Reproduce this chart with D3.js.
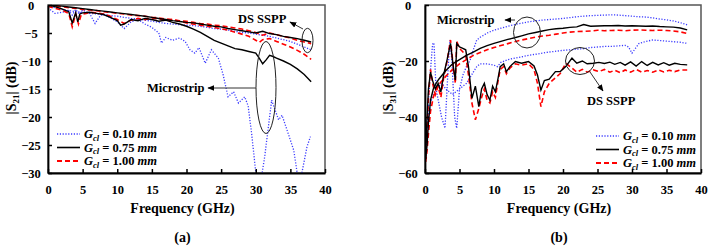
<!DOCTYPE html>
<html>
<head>
	<meta charset='utf-8'>
	<title>S21 / S31</title>
	<script src='https://cdn.jsdelivr.net/npm/d3@7'></script>
	<style>
		body { margin: 0; background: #fff; }
		svg text { font-family: 'Liberation Serif', 'Times New Roman', Times, 'DejaVu Serif', serif !important; font-weight: bold; }
	</style>
</head>
<body>
	<svg width='709' height='247'></svg>
	<script>

		// ---- data: panel (a) |S21| ----
		const gclLabels = ['0.10', '0.75', '1.00']
		const xTicks = [0, 5, 10, 15, 20, 25, 30, 35, 40]
		const aYTicks = [0, -5, -10, -15, -20, -25, -30]
		const bYTicks = [0, -20, -40, -60]

		const aDsF = [0, 1, 2, 3, 4, 5, 6, 7, 8, 9, 10, 11, 12, 13, 14, 15, 16, 17, 18, 19, 20, 21, 22, 23, 24, 25, 26, 27, 28, 29, 30, 31, 32, 33, 34, 35, 36, 37, 38]
		const aDs075 = [0, -0.1, -0.2, -0.35, -0.5, -0.65, -0.8, -0.95, -1.1, -1.25, -1.4, -1.55, -1.7, -1.85, -2.0, -2.2, -2.4, -2.6, -2.8, -2.95, -3.1, -3.2, -3.4, -3.6, -3.8, -3.9, -4.2, -4.4, -4.6, -4.8, -5.0, -4.7, -5.1, -5.3, -5.6, -5.8, -6.0, -6.3, -6.6]
		const aDs010 = [-0.2, -0.5, -0.8, -1.0, -1.2, -1.3, -1.5, -1.6, -1.7, -1.9, -2.0, -2.2, -2.4, -2.5, -2.7, -2.9, -3.1, -3.3, -3.4, -3.5, -3.6, -3.7, -3.8, -4.0, -4.2, -4.3, -4.5, -4.7, -4.9, -5.0, -5.2, -5.4, -5.6, -5.9, -6.2, -6.5, -7.0, -7.5, -8.0]
		const aDs100 = [0, -0.2, -0.3, -0.5, -0.6, -0.8, -0.9, -1.0, -1.2, -1.3, -1.5, -1.6, -1.8, -1.9, -2.0, -2.2, -2.3, -2.5, -2.6, -2.8, -2.9, -3.1, -3.3, -3.4, -3.6, -3.7, -3.9, -4.1, -4.3, -4.6, -4.9, -5.4, -5.0, -5.3, -5.6, -5.9, -6.3, -6.6, -6.9]

		const aMs075F = [0, 1, 2, 3, 3.5, 4, 4.3, 4.6, 5, 6, 7, 8, 9, 10, 10.5, 11, 11.5, 12, 13, 14, 15, 16, 17, 18, 19, 20, 21, 22, 23, 24, 25, 26, 27, 28, 29, 30, 30.5, 31, 31.5, 32, 32.5, 33, 34, 35, 36, 37, 38]
		const aMs075 = [0, -0.3, -0.7, -1.2, -3.2, -1.4, -3.0, -1.6, -1.4, -1.3, -1.5, -1.7, -2.2, -2.8, -3.6, -3.4, -3.0, -2.6, -2.8, -2.4, -2.6, -2.9, -2.7, -3.1, -3.4, -3.8, -4.3, -4.9, -5.6, -6.3, -6.8, -7.3, -7.8, -8.0, -8.3, -8.6, -9.5, -10.5, -9.8, -9.0, -9.2, -9.5, -10.0, -10.6, -11.4, -12.4, -13.7]

		const aMs100F = [0, 1, 2, 3, 3.5, 4, 4.4, 4.8, 5.5, 6, 7, 8, 9, 10, 11, 12, 13, 14, 15, 16, 17, 18, 19, 20, 22, 24, 26, 28, 29, 30, 30.5, 31, 32, 33, 34, 35, 36, 37, 38]
		const aMs100 = [-0.2, -0.6, -0.9, -1.5, -3.9, -1.6, -3.4, -1.7, -1.5, -1.3, -1.4, -1.6, -2.0, -2.6, -3.3, -2.7, -2.4, -2.6, -2.3, -2.5, -2.8, -2.6, -2.9, -3.2, -3.6, -4.0, -4.5, -5.2, -5.6, -6.3, -6.7, -6.2, -6.0, -6.5, -7.0, -7.5, -8.1, -8.8, -9.7]

		const aMs010F = [0, 1, 2, 3, 3.5, 4, 4.5, 5, 6, 6.8, 7.5, 8, 9, 10, 11, 12, 13, 14, 15, 16, 16.4, 17, 18, 19, 19.8, 20.5, 21.2, 21.8, 22.7, 23.6, 24.6, 25.3, 26, 26.8, 27.5, 28.4, 28.9, 29.4, 30.1, 30.8, 31.3, 32.3, 33.3, 33.8, 34.7, 35.5, 36.1, 36.5, 37.4, 37.9]
		const aMs010 = [-0.5, -1.5, -1.3, -1.0, -1.8, -0.8, -1.6, -0.9, -1.5, -3.3, -2.0, -1.6, -2.3, -3.0, -4.2, -3.0, -2.6, -3.4, -4.0, -5.0, -6.8, -5.8, -6.3, -5.9, -6.5, -8.0, -8.6, -7.6, -10.4, -8.0, -9.5, -12.5, -16.4, -15.5, -17.5, -16.4, -18, -22.9, -31, -31, -27, -17, -20.5, -19.7, -23, -26, -31, -31, -25.3, -23.5]

		// ---- data: panel (b) |S31| ----
		const bMsF = [0.1, 0.3, 0.5, 0.8, 1.2, 1.6, 2, 2.5, 3, 4, 5, 6, 7, 8, 9, 10, 11, 12, 13, 14, 15, 16, 17, 18, 19, 20, 21, 22, 23, 24, 25, 26, 27, 28, 29, 30, 31, 32, 33, 34, 35, 36, 37, 38]
		const bMs075 = [-55, -50, -42, -34, -30, -28, -26.5, -25, -23.5, -21, -19.5, -18, -16.8, -15.5, -14.5, -13.7, -13, -12.3, -11.7, -11, -10.3, -9.8, -9.3, -8.8, -8.5, -8.3, -8.0, -7.8, -7.0, -7.6, -7.5, -7.4, -7.4, -7.3, -7.5, -7.4, -7.5, -7.6, -7.5, -7.7, -7.8, -7.9, -8.2, -8.9]
		const bMs100 = [-56, -52, -46, -38, -33, -30, -28.5, -27, -25.5, -23, -21, -19.5, -18, -17, -16, -15.2, -14.5, -13.8, -13.1, -12.5, -12, -11.5, -11.1, -10.8, -10.4, -10, -9.7, -9.5, -9.4, -9.3, -9.0, -9.2, -9.1, -9.0, -9.2, -9.0, -8.9, -9.0, -9.1, -9.0, -9.1, -9.3, -9.6, -10.2]

		const bMs010F = [0.1, 0.3, 0.6, 0.9, 1.1, 1.3, 1.6, 2, 2.4, 2.9, 3.3, 3.6, 3.9, 4.3, 4.6, 5, 5.5, 6, 6.5, 7, 7.5, 8, 8.5, 9, 10, 11, 12, 13, 14, 15, 16, 17, 18, 19, 20, 21, 22, 23, 24, 25, 26, 27, 28, 29, 30, 31, 32, 33, 34, 35, 36, 37, 38]
		const bMs010 = [-54, -45, -30, -20, -14, -13.5, -30, -35, -40, -44, -25, -12.5, -20, -40, -44, -30, -25, -22, -20, -16, -12.5, -11.5, -10.8, -10, -9, -8.3, -7.6, -7.0, -6.5, -6.0, -5.7, -5.4, -5.2, -5.0, -4.8, -4.5, -4.2, -4.0, -3.8, -3.7, -3.6, -3.5, -3.6, -3.8, -4.0, -4.2, -4.3, -4.6, -5.0, -5.3, -5.7, -6.3, -7.1]

		const bDs010F = [0.1, 0.4, 0.8, 1.2, 1.6, 2, 2.5, 3, 4, 5, 6, 6.5, 7, 7.5, 8, 9, 10, 10.5, 11, 12, 13, 14, 15, 16, 17, 18, 19, 20, 21, 22, 23, 24, 25, 26, 27, 28, 29, 29.5, 30, 30.5, 31, 32, 33, 34, 35, 36, 37, 38]
		const bDs010 = [-54, -42, -35, -32, -30, -29, -28, -30, -32, -30, -28, -26, -24, -22, -21, -21, -21.5, -22, -20.5, -19.5, -19, -18.5, -18, -17.6, -17.2, -16.8, -16.5, -16.2, -16, -15.8, -15.6, -15.2, -15, -14.8, -14.8, -14.6, -14.4, -15, -17.2, -15.5, -13.8, -13, -12.5, -12.7, -12.9, -13.1, -13.3, -13.7]

		const bDsF = [0.1, 0.3, 0.5, 0.8, 1.1, 1.5, 1.9, 2.3, 2.7, 3.2, 3.7, 4.1, 4.4, 4.6, 5.0, 5.4, 5.9, 6.3, 6.8, 7.3, 7.8, 8.2, 8.6, 9.0, 9.4, 9.8, 10.2, 10.6, 10.9, 11.4, 11.8, 12.3, 13.1, 14, 15, 15.8, 16.3, 16.8, 17.3, 18, 18.9, 19.6, 20.4, 21.3, 22, 22.8, 23.5, 24.4, 25.2, 26, 26.8, 27.5, 28.3, 29, 29.8, 30.6, 31.4, 32.2, 33, 33.8, 34.6, 35.4, 36.2, 37, 38]
		const bDs075 = [-52, -40, -30, -24, -27, -30, -28, -31, -25, -19.6, -13.7, -22, -26.8, -13.7, -15, -15.4, -16, -22, -33.3, -29, -36.3, -30, -28, -32, -34, -29, -31, -26, -22, -21, -23.8, -22, -20.2, -20.8, -20.2, -21.8, -25, -30.4, -27, -26.5, -23.8, -23.8, -22, -19, -20.8, -20, -21, -20.8, -20.5, -20.9, -20.4, -21.2, -20.5, -21.5, -20.3, -21.8, -20.2, -21.6, -20.5, -21.4, -20.6, -21.5, -20.8, -21.2, -21.4]
		const bDs100 = [-55, -45, -33, -23, -28, -32, -29, -33, -26, -20, -12.5, -22, -28, -13, -15.5, -16.5, -18, -25, -35, -41, -37, -33, -30, -34, -35, -31, -33, -27, -23, -22, -24.5, -22.5, -21, -21.5, -21, -23, -28, -36.3, -31, -28, -26, -24.5, -20.8, -22.5, -24, -23, -24, -23.2, -23.8, -23, -24, -23.3, -24.2, -23.2, -24, -23, -24, -23.4, -24, -23.2, -23.9, -23.3, -23.8, -23.2, -23.2]

		// ---- styles ----
		const serif = "'Liberation Serif', 'Times New Roman', Times, serif"
		const styles = {
			'0.10': { stroke: '#3b3bff', dash: '1.2,1.6', width: 1.3 },
			'0.75': { stroke: '#000', dash: null, width: 1.4 },
			'1.00': { stroke: '#ff0000', dash: '5,3', width: 1.6 }
		}

		const svg = d3.select('svg')

		function label(g, x, y, txt, size) {
			return g.append('text').attr('x', x).attr('y', y).attr('font-family', serif)
				.attr('font-weight', 'bold').attr('font-size', size || 12.5).text(txt)
		}

		function panel(opt) {
			const x = d3.scaleLinear().domain([0, 40]).range([opt.left, opt.right])
			const y = d3.scaleLinear().domain(opt.yDomain).range([opt.bottom, opt.top])
			const g = svg.append('g').attr('font-family', serif)

			g.append('clipPath').attr('id', opt.id + 'clip')
				.append('rect').attr('x', opt.left).attr('y', opt.top)
				.attr('width', opt.right - opt.left).attr('height', opt.bottom - opt.top)

			// frame
			g.append('rect').attr('x', opt.left).attr('y', opt.top)
				.attr('width', opt.right - opt.left).attr('height', opt.bottom - opt.top)
				.attr('fill', 'none').attr('stroke', '#555').attr('stroke-width', 1.5)

			const line = d3.line().x(d => x(d[0])).y(d => y(d[1]))
			const lines = g.append('g').attr('clip-path', `url(#${opt.id}clip)`)
			opt.series.forEach(s => {
				const st = styles[s.gcl]
				lines.append('path')
					.datum(d3.zip(s.f, s.v))
					.attr('d', line)
					.attr('fill', 'none')
					.attr('stroke', st.stroke)
					.attr('stroke-width', st.width)
					.attr('stroke-dasharray', st.dash)
			})

			// axes with inward ticks
			const xAxis = d3.axisBottom(x).tickValues(xTicks).tickSizeInner(-4).tickSizeOuter(0).tickPadding(12)
			const yAxis = d3.axisLeft(y).tickValues(opt.yTicks).tickSizeInner(-4).tickSizeOuter(0).tickPadding(12)
			const gx = g.append('g').attr('transform', `translate(0,${opt.bottom})`).call(xAxis)
			const gy = g.append('g').attr('transform', `translate(${opt.left},0)`).call(yAxis)
			;[gx, gy].forEach(a => {
				a.attr('font-family', serif).attr('font-size', 12.5).attr('font-weight', 'bold')
				a.select('.domain').attr('stroke', '#000').attr('stroke-width', 1.8)
				a.selectAll('.tick line').attr('stroke', '#000').attr('stroke-width', 1.5)
				a.selectAll('.tick text').attr('fill', '#000')
			})
			gy.selectAll('.tick text').attr('text-anchor', 'middle').attr('x', -17)

			// axis titles
			const cx = (opt.left + opt.right) / 2
			label(g, cx - 4, 213, 'Frequency (GHz)', 14).attr('text-anchor', 'middle')
			label(g, cx - 4, 242, opt.tag, 14).attr('text-anchor', 'middle')

			const yl = g.append('text').attr('transform', `translate(${opt.left - 32},88) rotate(-90)`)
				.attr('text-anchor', 'middle').attr('font-size', 14).attr('font-weight', 'bold')
			yl.append('tspan').text('|S')
			yl.append('tspan').attr('font-size', 9).attr('dy', 3).text(opt.sub)
			yl.append('tspan').attr('dy', -3).text('| (dB)')

			// legend
			gclLabels.forEach((lab, i) => {
				const st = styles[lab]
				const ly = opt.legY + i * 13.5
				g.append('line').attr('x1', opt.legX).attr('x2', opt.legX + 23)
					.attr('y1', ly).attr('y2', ly)
					.attr('stroke', st.stroke).attr('stroke-width', st.width + 0.2)
					.attr('stroke-dasharray', st.dash)
				const t = label(g, opt.legX + 27, ly + 4, null, 12.5)
				t.append('tspan').attr('font-style', 'italic').text('G')
				t.append('tspan').attr('font-style', 'italic').attr('font-size', 8.5).attr('dy', 2.5).text('cl')
				t.append('tspan').attr('dy', -2.5).text(` = ${lab} `)
				t.append('tspan').attr('font-style', 'italic').text('mm')
			})
			return g
		}

		function arrow(g, x1, y1, x2, y2) {
			g.append('line').attr('x1', x1).attr('y1', y1).attr('x2', x2).attr('y2', y2)
				.attr('stroke', '#333').attr('stroke-width', 1).attr('marker-end', 'url(#arrowHead)')
		}
		function ellipse(g, cx, cy, rx, ry) {
			g.append('ellipse').attr('cx', cx).attr('cy', cy).attr('rx', rx).attr('ry', ry)
				.attr('fill', 'none').attr('stroke', '#222').attr('stroke-width', 1)
		}

		svg.append('defs').append('marker').attr('id', 'arrowHead')
			.attr('viewBox', '0 0 10 10').attr('refX', 9).attr('refY', 5)
			.attr('markerWidth', 7).attr('markerHeight', 7).attr('orient', 'auto')
			.append('path').attr('d', 'M0,1L10,5L0,9Z').attr('fill', '#000')

		const ga = panel({
			id: 'a', left: 48, right: 325, top: 5, bottom: 173,
			yDomain: [-30, 0], yTicks: aYTicks, sub: '21', tag: '(a)',
			legX: 57, legY: 134,
			series: [
				{ gcl: '0.10', f: aDsF, v: aDs010 }, { gcl: '0.10', f: aMs010F, v: aMs010 },
				{ gcl: '1.00', f: aDsF, v: aDs100 }, { gcl: '1.00', f: aMs100F, v: aMs100 },
				{ gcl: '0.75', f: aDsF, v: aDs075 }, { gcl: '0.75', f: aMs075F, v: aMs075 }
			]
		})
		const gb = panel({
			id: 'b', left: 425, right: 701, top: 5, bottom: 173,
			yDomain: [-60, 0], yTicks: bYTicks, sub: '31', tag: '(b)',
			legX: 596, legY: 136,
			series: [
				{ gcl: '0.10', f: bMs010F, v: bMs010 }, { gcl: '0.10', f: bDs010F, v: bDs010 },
				{ gcl: '1.00', f: bMsF, v: bMs100 }, { gcl: '1.00', f: bDsF, v: bDs100 },
				{ gcl: '0.75', f: bMsF, v: bMs075 }, { gcl: '0.75', f: bDsF, v: bDs075 }
			]
		})

		// annotations (a)
		ellipse(ga, 307.5, 40.5, 5.5, 12.2)
		arrow(ga, 303, 29, 290, 22)
		label(ga, 238, 23, 'DS SSPP')
		ellipse(ga, 266, 87.5, 10, 46)
		arrow(ga, 256, 88, 208, 88)
		label(ga, 147, 92, 'Microstrip')

		// annotations (b)
		ellipse(gb, 527, 32.5, 13.5, 15.5)
		arrow(gb, 515, 20, 505, 20)
		label(gb, 437, 24, 'Microstrip')
		ellipse(gb, 580, 61, 14.5, 13.5)
		arrow(gb, 590, 72, 603, 91)
		label(gb, 587, 105, 'DS SSPP')

	</script>
</body>
</html>
